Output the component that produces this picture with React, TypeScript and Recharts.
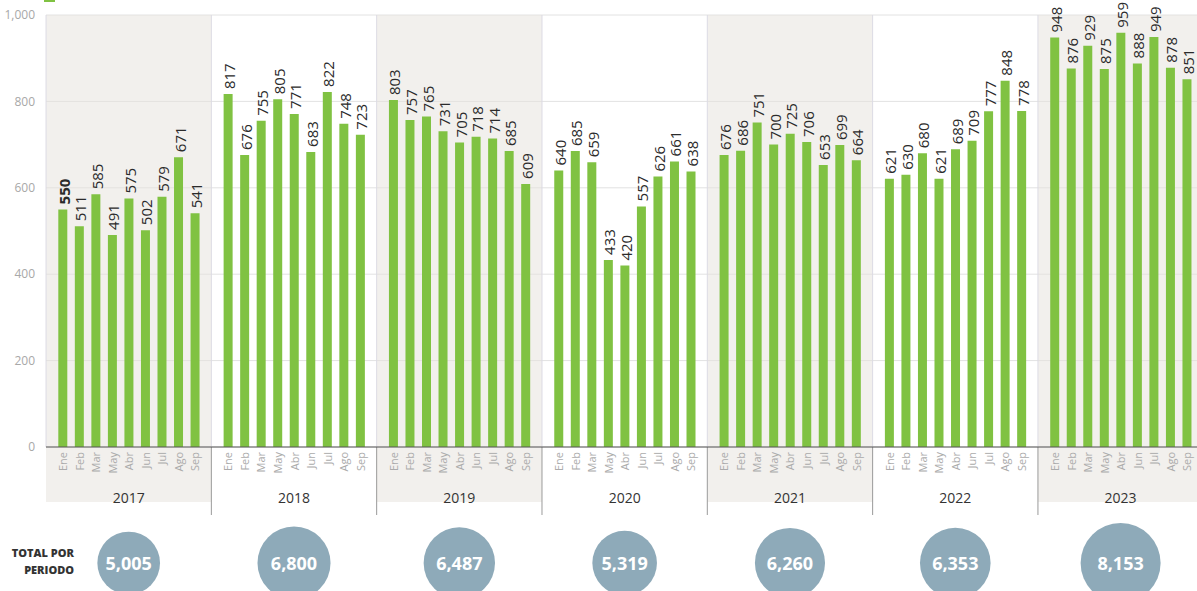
import React from 'react';
import { BarChart, Bar, XAxis, YAxis, CartesianGrid, ReferenceArea, LabelList } from 'recharts';

const MONTHS = ['Ene', 'Feb', 'Mar', 'May', 'Abr', 'Jun', 'Jul', 'Ago', 'Sep'];
const YEARS = ['2017', '2018', '2019', '2020', '2021', '2022', '2023'];
const V2017 = [550, 511, 585, 491, 575, 502, 579, 671, 541];
const V2018 = [817, 676, 755, 805, 771, 683, 822, 748, 723];
const V2019 = [803, 757, 765, 731, 705, 718, 714, 685, 609];
const V2020 = [640, 685, 659, 433, 420, 557, 626, 661, 638];
const V2021 = [676, 686, 751, 700, 725, 706, 653, 699, 664];
const V2022 = [621, 630, 680, 621, 689, 709, 777, 848, 778];
const V2023 = [948, 876, 929, 875, 959, 888, 949, 878, 851];
const VALUES = [V2017, V2018, V2019, V2020, V2021, V2022, V2023];
const Y_TICKS = [0, 200, 400, 600, 800, 1000];
const TOTALS = VALUES.map((v) => v.reduce((a, b) => a + b, 0));
const MAX_TOTAL = Math.max(...TOTALS);

type Row = { key: string; value: number | null; bold?: boolean };
const data: Row[] = [];
YEARS.forEach((y, yi) => {
  MONTHS.forEach((_, mi) => {
    data.push({ key: `${y}-${mi}`, value: VALUES[yi][mi], bold: yi === 0 && mi === 0 });
  });
  if (yi < YEARS.length - 1) data.push({ key: `gap-${yi}`, value: null });
});

const FONT = '"Open Sans", "DejaVu Sans", sans-serif';

const MonthTick = (props: any) => {
  const { x, y, payload } = props;
  const v: string = String(payload?.value ?? '');
  if (v.startsWith('gap')) return null;
  const month = MONTHS[Number(v.split('-')[1])];
  return (
    <g transform={`translate(${x},${y}) rotate(-90)`}>
      <text x={0} y={0} textAnchor="end" dominantBaseline="central" fill="#ababab" fontSize={11} fontFamily={FONT}>
        {month}
      </text>
    </g>
  );
};

const renderValueLabel = (props: any) => {
  const { x, y, width, value, index } = props;
  if (value == null || value === '') return null;
  const cx = Number(x) + Number(width) / 2 + 1;
  const ty = Number(y) - 5;
  const bold = data[index]?.bold;
  return (
    <g key={`vl-${index}`} transform={`translate(${cx},${ty}) rotate(-90)`}>
      <text
        x={0}
        y={0}
        textAnchor="start"
        dominantBaseline="central"
        fill="#2b2b2b"
        fontSize={15}
        fontWeight={bold ? 700 : 400}
        fontFamily={FONT}
      >
        {value}
      </text>
    </g>
  );
};

const makePanel = (yi: number) => (props: any) => {
  const { x, y, width, height } = props;
  const slot = width / MONTHS.length;
  const left = x - slot / 2;
  const right = x + width + slot / 2;
  const bottom = y + height;
  const cx = (left + right) / 2;
  const shaded = yi % 2 === 0;
  const r = 40 * Math.sqrt(TOTALS[yi] / MAX_TOTAL);
  return (
    <g>
      {shaded && (
        <rect x={left} y={y} width={right - left} height={height + 55} fill="#e6e1dc" fillOpacity={0.5} />
      )}
      <line x1={left} x2={left} y1={y} y2={bottom} stroke="#dcdbe4" strokeWidth={1} />
      {yi > 0 && <line x1={left} x2={left} y1={bottom} y2={bottom + 68} stroke="#9a9a9a" strokeWidth={1} />}
      <text x={cx} y={bottom + 50} textAnchor="middle" dominantBaseline="central" fill="#333" fontSize={14} fontFamily={FONT}>
        {YEARS[yi]}
      </text>
      <circle cx={cx} cy={bottom + 116} r={r} fill="#8eaab9" />
      <text x={cx} y={bottom + 116} textAnchor="middle" dominantBaseline="central" fill="#fff" fontSize={18} fontWeight={700} fontFamily={FONT}>
        {TOTALS[yi].toLocaleString('en-US')}
      </text>
    </g>
  );
};

export default function App() {
  return (
    <div style={{ position: 'absolute', left: 0, top: 0, width: 1197, height: 591, background: '#fff', overflow: 'hidden', fontFamily: FONT }}>
      <div style={{ position: 'absolute', left: 44, top: -9, width: 11, height: 11, background: '#80c242' }} />
      <BarChart width={1197} height={591} data={data} margin={{ top: 15, right: 0, left: 0, bottom: 84 }}>
        {YEARS.map((y, yi) => (
          <ReferenceArea
            key={y}
            x1={`${y}-0`}
            x2={`${y}-${MONTHS.length - 1}`}
            shape={makePanel(yi)}
            fill="none"
            stroke="none"
          />
        ))}
        <CartesianGrid vertical={false} stroke="#e2e2e2" />
        <YAxis
          width={46}
          domain={[0, 1000]}
          ticks={Y_TICKS}
          interval={0}
          axisLine={false}
          tickLine={false}
          tickSize={0}
          tickMargin={11}
          tick={{ fill: '#a8a8a8', fontSize: 12, fontFamily: FONT }}
          tickFormatter={(v: number) => v.toLocaleString('en-US')}
        />
        <XAxis
          dataKey="key"
          interval={0}
          padding={{ left: 8.3, right: 2 }}
          tickLine={false}
          tickSize={0}
          tickMargin={5}
          height={60}
          axisLine={{ stroke: '#555', strokeWidth: 1.2 }}
          tick={<MonthTick />}
        />
        <Bar dataKey="value" fill="#80c242" barSize={9} isAnimationActive={false}>
          <LabelList dataKey="value" content={renderValueLabel} />
        </Bar>
      </BarChart>
      <div
        style={{
          position: 'absolute',
          left: 0,
          top: 544,
          width: 74,
          textAlign: 'right',
          fontSize: 11,
          fontWeight: 800,
          lineHeight: '17px',
          color: '#333',
          fontFamily: FONT,
        }}
      >
        TOTAL POR
        <br />
        PERIODO
      </div>
    </div>
  );
}
